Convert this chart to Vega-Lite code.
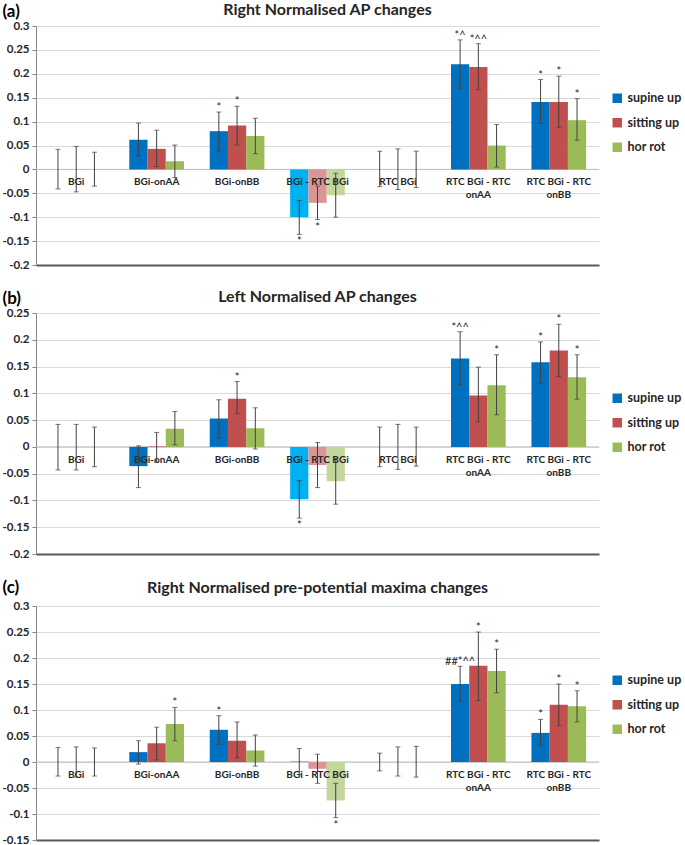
{
  "$schema": "https://vega.github.io/schema/vega-lite/v6.json",
  "padding": {"left": 1, "top": 2, "right": 0, "bottom": 0},
  "background": "white",
  "spacing": 18,
  "resolve": {"scale": {"color": "independent", "x": "independent", "y": "independent"}, "legend": {"color": "independent"}},
  "config": {
    "font": "Lato",
    "view": {"stroke": null},
    "axisY": {"grid": true, "tickCount": 30, "gridColor": "#D9D9D9", "domainColor": "#868686", "tickColor": "#868686", "tickSize": 4, "labelFontWeight": "bold", "labelFontSize": 11.5, "labelColor": "#262626", "labelPadding": 3, "labelOverlap": false, "labelFlush": false, "labelExpr": "'' + datum.value", "titleAngle": 0, "titleFontSize": 17, "titleFontWeight": "bold", "titleColor": "#000000", "titleAlign": "left", "titleBaseline": "alphabetic", "titleX": -34, "titleY": -10},
    "axisX": {"labels": false, "ticks": false, "domainColor": "#595959", "domainWidth": 2, "title": null, "grid": false},
    "title": {"fontSize": 16, "fontWeight": "bold", "color": "#262626", "offset": -16, "frame": "group", "anchor": "middle"},
    "legend": {"orient": "none", "legendX": 575, "legendY": 66, "labelFontSize": 12.5, "labelFontWeight": "bold", "labelOffset": 4, "symbolType": "square", "symbolSize": 90, "rowPadding": 11.5, "labelColor": "#262626", "symbolStrokeWidth": 0}
  },
  "datasets": {
    "a": [
      {"g": "BGi", "s": "supine up", "v": 0, "lo": -0.041, "hi": 0.042, "up": "", "dn": ""},
      {"g": "BGi", "s": "sitting up", "v": 0, "lo": -0.047, "hi": 0.048, "up": "", "dn": ""},
      {"g": "BGi", "s": "hor rot", "v": 0, "lo": -0.035, "hi": 0.036, "up": "", "dn": ""},
      {"g": "BGi-onAA", "s": "supine up", "v": 0.062, "lo": 0.029, "hi": 0.097, "up": "", "dn": ""},
      {"g": "BGi-onAA", "s": "sitting up", "v": 0.043, "lo": 0.006, "hi": 0.082, "up": "", "dn": ""},
      {"g": "BGi-onAA", "s": "hor rot", "v": 0.017, "lo": -0.017, "hi": 0.051, "up": "", "dn": ""},
      {"g": "BGi-onBB", "s": "supine up", "v": 0.080, "lo": 0.039, "hi": 0.120, "up": "*", "dn": ""},
      {"g": "BGi-onBB", "s": "sitting up", "v": 0.092, "lo": 0.051, "hi": 0.132, "up": "*", "dn": ""},
      {"g": "BGi-onBB", "s": "hor rot", "v": 0.070, "lo": 0.033, "hi": 0.107, "up": "", "dn": ""},
      {"g": "BGi - RTC BGi", "s": "supine up", "v": -0.100, "lo": -0.136, "hi": -0.065, "up": "", "dn": "*"},
      {"g": "BGi - RTC BGi", "s": "sitting up", "v": -0.070, "lo": -0.105, "hi": -0.035, "up": "", "dn": "*"},
      {"g": "BGi - RTC BGi", "s": "hor rot", "v": -0.054, "lo": -0.100, "hi": -0.008, "up": "", "dn": ""},
      {"g": "RTC BGi", "s": "supine up", "v": 0, "lo": -0.036, "hi": 0.038, "up": "", "dn": ""},
      {"g": "RTC BGi", "s": "sitting up", "v": 0, "lo": -0.042, "hi": 0.043, "up": "", "dn": ""},
      {"g": "RTC BGi", "s": "hor rot", "v": 0, "lo": -0.038, "hi": 0.038, "up": "", "dn": ""},
      {"g": "RTC BGi - RTC onAA", "s": "supine up", "v": 0.220, "lo": 0.170, "hi": 0.271, "up": "*^", "dn": ""},
      {"g": "RTC BGi - RTC onAA", "s": "sitting up", "v": 0.214, "lo": 0.167, "hi": 0.263, "up": "*^^", "dn": ""},
      {"g": "RTC BGi - RTC onAA", "s": "hor rot", "v": 0.050, "lo": 0.005, "hi": 0.094, "up": "", "dn": ""},
      {"g": "RTC BGi - RTC onBB", "s": "supine up", "v": 0.141, "lo": 0.096, "hi": 0.188, "up": "*", "dn": ""},
      {"g": "RTC BGi - RTC onBB", "s": "sitting up", "v": 0.141, "lo": 0.088, "hi": 0.195, "up": "*", "dn": ""},
      {"g": "RTC BGi - RTC onBB", "s": "hor rot", "v": 0.103, "lo": 0.061, "hi": 0.148, "up": "*", "dn": ""}
    ],
    "b": [
      {"g": "BGi", "s": "supine up", "v": 0, "lo": -0.043, "hi": 0.042, "up": "", "dn": ""},
      {"g": "BGi", "s": "sitting up", "v": 0, "lo": -0.043, "hi": 0.042, "up": "", "dn": ""},
      {"g": "BGi", "s": "hor rot", "v": 0, "lo": -0.037, "hi": 0.037, "up": "", "dn": ""},
      {"g": "BGi-onAA", "s": "supine up", "v": -0.036, "lo": -0.076, "hi": 0.002, "up": "", "dn": ""},
      {"g": "BGi-onAA", "s": "sitting up", "v": 0.001, "lo": -0.029, "hi": 0.027, "up": "", "dn": ""},
      {"g": "BGi-onAA", "s": "hor rot", "v": 0.034, "lo": 0.004, "hi": 0.066, "up": "", "dn": ""},
      {"g": "BGi-onBB", "s": "supine up", "v": 0.053, "lo": 0.016, "hi": 0.088, "up": "", "dn": ""},
      {"g": "BGi-onBB", "s": "sitting up", "v": 0.090, "lo": 0.062, "hi": 0.122, "up": "*", "dn": ""},
      {"g": "BGi-onBB", "s": "hor rot", "v": 0.035, "lo": -0.004, "hi": 0.073, "up": "", "dn": ""},
      {"g": "BGi - RTC BGi", "s": "supine up", "v": -0.098, "lo": -0.133, "hi": -0.063, "up": "", "dn": "*"},
      {"g": "BGi - RTC BGi", "s": "sitting up", "v": -0.034, "lo": -0.076, "hi": 0.008, "up": "", "dn": ""},
      {"g": "BGi - RTC BGi", "s": "hor rot", "v": -0.064, "lo": -0.107, "hi": -0.021, "up": "", "dn": ""},
      {"g": "RTC BGi", "s": "supine up", "v": 0, "lo": -0.037, "hi": 0.037, "up": "", "dn": ""},
      {"g": "RTC BGi", "s": "sitting up", "v": 0, "lo": -0.042, "hi": 0.042, "up": "", "dn": ""},
      {"g": "RTC BGi", "s": "hor rot", "v": 0, "lo": -0.036, "hi": 0.037, "up": "", "dn": ""},
      {"g": "RTC BGi - RTC onAA", "s": "supine up", "v": 0.165, "lo": 0.116, "hi": 0.215, "up": "*^^", "dn": ""},
      {"g": "RTC BGi - RTC onAA", "s": "sitting up", "v": 0.096, "lo": 0.047, "hi": 0.149, "up": "", "dn": ""},
      {"g": "RTC BGi - RTC onAA", "s": "hor rot", "v": 0.115, "lo": 0.060, "hi": 0.172, "up": "*", "dn": ""},
      {"g": "RTC BGi - RTC onBB", "s": "supine up", "v": 0.158, "lo": 0.119, "hi": 0.196, "up": "*", "dn": ""},
      {"g": "RTC BGi - RTC onBB", "s": "sitting up", "v": 0.180, "lo": 0.131, "hi": 0.229, "up": "*", "dn": ""},
      {"g": "RTC BGi - RTC onBB", "s": "hor rot", "v": 0.130, "lo": 0.089, "hi": 0.172, "up": "*", "dn": ""}
    ],
    "c": [
      {"g": "BGi", "s": "supine up", "v": 0, "lo": -0.027, "hi": 0.028, "up": "", "dn": ""},
      {"g": "BGi", "s": "sitting up", "v": 0, "lo": -0.029, "hi": 0.029, "up": "", "dn": ""},
      {"g": "BGi", "s": "hor rot", "v": 0, "lo": -0.027, "hi": 0.027, "up": "", "dn": ""},
      {"g": "BGi-onAA", "s": "supine up", "v": 0.019, "lo": -0.004, "hi": 0.041, "up": "", "dn": ""},
      {"g": "BGi-onAA", "s": "sitting up", "v": 0.036, "lo": 0.004, "hi": 0.067, "up": "", "dn": ""},
      {"g": "BGi-onAA", "s": "hor rot", "v": 0.073, "lo": 0.041, "hi": 0.105, "up": "*", "dn": ""},
      {"g": "BGi-onBB", "s": "supine up", "v": 0.062, "lo": 0.034, "hi": 0.089, "up": "*", "dn": ""},
      {"g": "BGi-onBB", "s": "sitting up", "v": 0.041, "lo": 0.008, "hi": 0.077, "up": "", "dn": ""},
      {"g": "BGi-onBB", "s": "hor rot", "v": 0.022, "lo": -0.008, "hi": 0.052, "up": "", "dn": ""},
      {"g": "BGi - RTC BGi", "s": "supine up", "v": 0.001, "lo": -0.024, "hi": 0.026, "up": "", "dn": ""},
      {"g": "BGi - RTC BGi", "s": "sitting up", "v": -0.013, "lo": -0.041, "hi": 0.015, "up": "", "dn": ""},
      {"g": "BGi - RTC BGi", "s": "hor rot", "v": -0.074, "lo": -0.107, "hi": -0.041, "up": "", "dn": "*"},
      {"g": "RTC BGi", "s": "supine up", "v": 0, "lo": -0.017, "hi": 0.017, "up": "", "dn": ""},
      {"g": "RTC BGi", "s": "sitting up", "v": 0, "lo": -0.027, "hi": 0.029, "up": "", "dn": ""},
      {"g": "RTC BGi", "s": "hor rot", "v": 0, "lo": -0.029, "hi": 0.030, "up": "", "dn": ""},
      {"g": "RTC BGi - RTC onAA", "s": "supine up", "v": 0.150, "lo": 0.117, "hi": 0.184, "up": "##*^^", "dn": ""},
      {"g": "RTC BGi - RTC onAA", "s": "sitting up", "v": 0.185, "lo": 0.118, "hi": 0.250, "up": "*", "dn": ""},
      {"g": "RTC BGi - RTC onAA", "s": "hor rot", "v": 0.175, "lo": 0.133, "hi": 0.217, "up": "*", "dn": ""},
      {"g": "RTC BGi - RTC onBB", "s": "supine up", "v": 0.056, "lo": 0.031, "hi": 0.082, "up": "*", "dn": ""},
      {"g": "RTC BGi - RTC onBB", "s": "sitting up", "v": 0.110, "lo": 0.070, "hi": 0.150, "up": "*", "dn": ""},
      {"g": "RTC BGi - RTC onBB", "s": "hor rot", "v": 0.107, "lo": 0.077, "hi": 0.137, "up": "*", "dn": ""}
    ],
    "labelsAB": [
      {"g": "BGi", "label": "BGi"},
      {"g": "BGi-onAA", "label": "BGi-onAA"},
      {"g": "BGi-onBB", "label": "BGi-onBB"},
      {"g": "BGi - RTC BGi", "label": "BGi - RTC BGi"},
      {"g": "RTC BGi", "label": "RTC BGi"},
      {"g": "RTC BGi - RTC onAA", "label": "RTC BGi - RTC\nonAA"},
      {"g": "RTC BGi - RTC onBB", "label": "RTC BGi - RTC\nonBB"}
    ],
    "labelsC": [
      {"g": "BGi", "label": "BGi"},
      {"g": "BGi-onAA", "label": "BGi-onAA"},
      {"g": "BGi-onBB", "label": "BGi-onBB"},
      {"g": "BGi - RTC BGi", "label": "BGi - RTC BGi"},
      {"g": "RTC BGi - RTC onAA", "label": "RTC BGi - RTC\nonAA"},
      {"g": "RTC BGi - RTC onBB", "label": "RTC BGi - RTC\nonBB"}
    ],
    "zero": [{"z": 0}]
  },
  "vconcat": [
    {
      "width": 563, "height": 239,
      "title": {"text": "Right Normalised AP changes", "dx": 10},
      "layer": [
        {
          "data": {"name": "zero"},
          "mark": {"type": "rule", "color": "#BFBFBF", "strokeWidth": 1},
          "encoding": {"y": {"field": "z", "type": "quantitative", "scale": {"domain": [-0.2, 0.3], "nice": false, "zero": false}, "axis": {"values": [-0.2, -0.15, -0.1, -0.05, 0, 0.05, 0.1, 0.15, 0.2, 0.25, 0.3], "title": "(a)"}}}
        },
        {
          "data": {"name": "a"},
          "mark": {"type": "bar"},
          "encoding": {
            "x": {"field": "g", "type": "nominal", "sort": ["BGi", "BGi-onAA", "BGi-onBB", "BGi - RTC BGi", "RTC BGi", "RTC BGi - RTC onAA", "RTC BGi - RTC onBB"], "scale": {"paddingInner": 0.32, "paddingOuter": 0.16}},
            "xOffset": {"field": "s", "type": "nominal", "sort": ["supine up", "sitting up", "hor rot"]},
            "y": {"field": "v", "type": "quantitative", "axis": {"values": [-0.2, -0.15, -0.1, -0.05, 0, 0.05, 0.1, 0.15, 0.2, 0.25, 0.3], "title": "(a)"}},
            "y2": {"datum": 0},
            "color": {"field": "s", "type": "nominal", "scale": {"domain": ["supine up", "sitting up", "hor rot"], "range": ["#0070C0", "#C0504D", "#9BBB59"]}, "legend": {"title": null, "legendY": 66},
              "condition": [
                {"test": "datum.g === 'BGi - RTC BGi' && datum.s === 'supine up'", "value": "#00B0F0"},
                {"test": "datum.g === 'BGi - RTC BGi' && datum.s === 'sitting up'", "value": "#DA9694"},
                {"test": "datum.g === 'BGi - RTC BGi' && datum.s === 'hor rot'", "value": "#C3D69B"}
              ]}
          }
        },
        {
          "data": {"name": "labelsAB"},
          "mark": {"type": "text", "baseline": "top", "dy": 8, "fontSize": 10, "fontWeight": "bold", "color": "#262626", "lineBreak": "\n", "lineHeight": 13},
          "encoding": {
            "x": {"field": "g", "type": "nominal", "sort": ["BGi", "BGi-onAA", "BGi-onBB", "BGi - RTC BGi", "RTC BGi", "RTC BGi - RTC onAA", "RTC BGi - RTC onBB"]},
            "y": {"datum": 0},
            "text": {"field": "label"}
          }
        },
        {
          "data": {"name": "a"},
          "mark": {"type": "rule", "color": "#404040", "strokeWidth": 1},
          "encoding": {
            "x": {"field": "g", "type": "nominal", "sort": ["BGi", "BGi-onAA", "BGi-onBB", "BGi - RTC BGi", "RTC BGi", "RTC BGi - RTC onAA", "RTC BGi - RTC onBB"]},
            "xOffset": {"field": "s", "type": "nominal", "sort": ["supine up", "sitting up", "hor rot"]},
            "y": {"field": "lo", "type": "quantitative"},
            "y2": {"field": "hi"}
          }
        },
        {
          "data": {"name": "a"},
          "mark": {"type": "tick", "color": "#404040", "thickness": 1, "size": 5},
          "encoding": {
            "x": {"field": "g", "type": "nominal", "sort": ["BGi", "BGi-onAA", "BGi-onBB", "BGi - RTC BGi", "RTC BGi", "RTC BGi - RTC onAA", "RTC BGi - RTC onBB"]},
            "xOffset": {"field": "s", "type": "nominal", "sort": ["supine up", "sitting up", "hor rot"]},
            "y": {"field": "lo", "type": "quantitative"}
          }
        },
        {
          "data": {"name": "a"},
          "mark": {"type": "tick", "color": "#404040", "thickness": 1, "size": 5},
          "encoding": {
            "x": {"field": "g", "type": "nominal", "sort": ["BGi", "BGi-onAA", "BGi-onBB", "BGi - RTC BGi", "RTC BGi", "RTC BGi - RTC onAA", "RTC BGi - RTC onBB"]},
            "xOffset": {"field": "s", "type": "nominal", "sort": ["supine up", "sitting up", "hor rot"]},
            "y": {"field": "hi", "type": "quantitative"}
          }
        },
        {
          "data": {"name": "a"},
          "mark": {"type": "text", "baseline": "alphabetic", "dy": -1, "fontSize": 11, "color": "#262626"},
          "encoding": {
            "x": {"field": "g", "type": "nominal", "sort": ["BGi", "BGi-onAA", "BGi-onBB", "BGi - RTC BGi", "RTC BGi", "RTC BGi - RTC onAA", "RTC BGi - RTC onBB"]},
            "xOffset": {"field": "s", "type": "nominal", "sort": ["supine up", "sitting up", "hor rot"]},
            "y": {"field": "hi", "type": "quantitative"},
            "text": {"field": "up"}
          }
        },
        {
          "data": {"name": "a"},
          "mark": {"type": "text", "baseline": "alphabetic", "dy": 11, "fontSize": 11, "color": "#262626"},
          "encoding": {
            "x": {"field": "g", "type": "nominal", "sort": ["BGi", "BGi-onAA", "BGi-onBB", "BGi - RTC BGi", "RTC BGi", "RTC BGi - RTC onAA", "RTC BGi - RTC onBB"]},
            "xOffset": {"field": "s", "type": "nominal", "sort": ["supine up", "sitting up", "hor rot"]},
            "y": {"field": "lo", "type": "quantitative"},
            "text": {"field": "dn"}
          }
        }
      ]
    },
    {
      "width": 563, "height": 241,
      "title": "Left Normalised AP changes",
      "layer": [
        {
          "data": {"name": "zero"},
          "mark": {"type": "rule", "color": "#BFBFBF", "strokeWidth": 1},
          "encoding": {"y": {"field": "z", "type": "quantitative", "scale": {"domain": [-0.2, 0.25], "nice": false, "zero": false}, "axis": {"values": [-0.2, -0.15, -0.1, -0.05, 0, 0.05, 0.1, 0.15, 0.2, 0.25], "title": "(b)"}}}
        },
        {
          "data": {"name": "b"},
          "mark": {"type": "bar"},
          "encoding": {
            "x": {"field": "g", "type": "nominal", "sort": ["BGi", "BGi-onAA", "BGi-onBB", "BGi - RTC BGi", "RTC BGi", "RTC BGi - RTC onAA", "RTC BGi - RTC onBB"], "scale": {"paddingInner": 0.32, "paddingOuter": 0.16}},
            "xOffset": {"field": "s", "type": "nominal", "sort": ["supine up", "sitting up", "hor rot"]},
            "y": {"field": "v", "type": "quantitative", "axis": {"values": [-0.2, -0.15, -0.1, -0.05, 0, 0.05, 0.1, 0.15, 0.2, 0.25], "title": "(b)"}},
            "y2": {"datum": 0},
            "color": {"field": "s", "type": "nominal", "scale": {"domain": ["supine up", "sitting up", "hor rot"], "range": ["#0070C0", "#C0504D", "#9BBB59"]}, "legend": {"title": null, "legendY": 79},
              "condition": [
                {"test": "datum.g === 'BGi - RTC BGi' && datum.s === 'supine up'", "value": "#00B0F0"},
                {"test": "datum.g === 'BGi - RTC BGi' && datum.s === 'sitting up'", "value": "#DA9694"},
                {"test": "datum.g === 'BGi - RTC BGi' && datum.s === 'hor rot'", "value": "#C3D69B"}
              ]}
          }
        },
        {
          "data": {"name": "labelsAB"},
          "mark": {"type": "text", "baseline": "top", "dy": 8, "fontSize": 10, "fontWeight": "bold", "color": "#262626", "lineBreak": "\n", "lineHeight": 13},
          "encoding": {
            "x": {"field": "g", "type": "nominal", "sort": ["BGi", "BGi-onAA", "BGi-onBB", "BGi - RTC BGi", "RTC BGi", "RTC BGi - RTC onAA", "RTC BGi - RTC onBB"]},
            "y": {"datum": 0},
            "text": {"field": "label"}
          }
        },
        {
          "data": {"name": "b"},
          "mark": {"type": "rule", "color": "#404040", "strokeWidth": 1},
          "encoding": {
            "x": {"field": "g", "type": "nominal", "sort": ["BGi", "BGi-onAA", "BGi-onBB", "BGi - RTC BGi", "RTC BGi", "RTC BGi - RTC onAA", "RTC BGi - RTC onBB"]},
            "xOffset": {"field": "s", "type": "nominal", "sort": ["supine up", "sitting up", "hor rot"]},
            "y": {"field": "lo", "type": "quantitative"},
            "y2": {"field": "hi"}
          }
        },
        {
          "data": {"name": "b"},
          "mark": {"type": "tick", "color": "#404040", "thickness": 1, "size": 5},
          "encoding": {
            "x": {"field": "g", "type": "nominal", "sort": ["BGi", "BGi-onAA", "BGi-onBB", "BGi - RTC BGi", "RTC BGi", "RTC BGi - RTC onAA", "RTC BGi - RTC onBB"]},
            "xOffset": {"field": "s", "type": "nominal", "sort": ["supine up", "sitting up", "hor rot"]},
            "y": {"field": "lo", "type": "quantitative"}
          }
        },
        {
          "data": {"name": "b"},
          "mark": {"type": "tick", "color": "#404040", "thickness": 1, "size": 5},
          "encoding": {
            "x": {"field": "g", "type": "nominal", "sort": ["BGi", "BGi-onAA", "BGi-onBB", "BGi - RTC BGi", "RTC BGi", "RTC BGi - RTC onAA", "RTC BGi - RTC onBB"]},
            "xOffset": {"field": "s", "type": "nominal", "sort": ["supine up", "sitting up", "hor rot"]},
            "y": {"field": "hi", "type": "quantitative"}
          }
        },
        {
          "data": {"name": "b"},
          "mark": {"type": "text", "baseline": "alphabetic", "dy": -1, "fontSize": 11, "color": "#262626"},
          "encoding": {
            "x": {"field": "g", "type": "nominal", "sort": ["BGi", "BGi-onAA", "BGi-onBB", "BGi - RTC BGi", "RTC BGi", "RTC BGi - RTC onAA", "RTC BGi - RTC onBB"]},
            "xOffset": {"field": "s", "type": "nominal", "sort": ["supine up", "sitting up", "hor rot"]},
            "y": {"field": "hi", "type": "quantitative"},
            "text": {"field": "up"}
          }
        },
        {
          "data": {"name": "b"},
          "mark": {"type": "text", "baseline": "alphabetic", "dy": 11, "fontSize": 11, "color": "#262626"},
          "encoding": {
            "x": {"field": "g", "type": "nominal", "sort": ["BGi", "BGi-onAA", "BGi-onBB", "BGi - RTC BGi", "RTC BGi", "RTC BGi - RTC onAA", "RTC BGi - RTC onBB"]},
            "xOffset": {"field": "s", "type": "nominal", "sort": ["supine up", "sitting up", "hor rot"]},
            "y": {"field": "lo", "type": "quantitative"},
            "text": {"field": "dn"}
          }
        }
      ]
    },
    {
      "width": 563, "height": 234,
      "title": {"text": "Right Normalised pre-potential maxima changes", "offset": -18},
      "layer": [
        {
          "data": {"name": "zero"},
          "mark": {"type": "rule", "color": "#BFBFBF", "strokeWidth": 1},
          "encoding": {"y": {"field": "z", "type": "quantitative", "scale": {"domain": [-0.15, 0.3], "nice": false, "zero": false}, "axis": {"values": [-0.15, -0.1, -0.05, 0, 0.05, 0.1, 0.15, 0.2, 0.25, 0.3], "title": "(c)", "titleY": -14}}}
        },
        {
          "data": {"name": "c"},
          "mark": {"type": "bar"},
          "encoding": {
            "x": {"field": "g", "type": "nominal", "sort": ["BGi", "BGi-onAA", "BGi-onBB", "BGi - RTC BGi", "RTC BGi", "RTC BGi - RTC onAA", "RTC BGi - RTC onBB"], "scale": {"paddingInner": 0.32, "paddingOuter": 0.16}},
            "xOffset": {"field": "s", "type": "nominal", "sort": ["supine up", "sitting up", "hor rot"]},
            "y": {"field": "v", "type": "quantitative", "axis": {"values": [-0.15, -0.1, -0.05, 0, 0.05, 0.1, 0.15, 0.2, 0.25, 0.3], "title": "(c)", "titleY": -14}},
            "y2": {"datum": 0},
            "color": {"field": "s", "type": "nominal", "scale": {"domain": ["supine up", "sitting up", "hor rot"], "range": ["#0070C0", "#C0504D", "#9BBB59"]}, "legend": {"title": null, "legendY": 68},
              "condition": [
                {"test": "datum.g === 'BGi - RTC BGi' && datum.s === 'supine up'", "value": "#00B0F0"},
                {"test": "datum.g === 'BGi - RTC BGi' && datum.s === 'sitting up'", "value": "#DA9694"},
                {"test": "datum.g === 'BGi - RTC BGi' && datum.s === 'hor rot'", "value": "#C3D69B"}
              ]}
          }
        },
        {
          "data": {"name": "labelsC"},
          "mark": {"type": "text", "baseline": "top", "dy": 8, "fontSize": 10, "fontWeight": "bold", "color": "#262626", "lineBreak": "\n", "lineHeight": 13},
          "encoding": {
            "x": {"field": "g", "type": "nominal", "sort": ["BGi", "BGi-onAA", "BGi-onBB", "BGi - RTC BGi", "RTC BGi", "RTC BGi - RTC onAA", "RTC BGi - RTC onBB"]},
            "y": {"datum": 0},
            "text": {"field": "label"}
          }
        },
        {
          "data": {"name": "c"},
          "mark": {"type": "rule", "color": "#404040", "strokeWidth": 1},
          "encoding": {
            "x": {"field": "g", "type": "nominal", "sort": ["BGi", "BGi-onAA", "BGi-onBB", "BGi - RTC BGi", "RTC BGi", "RTC BGi - RTC onAA", "RTC BGi - RTC onBB"]},
            "xOffset": {"field": "s", "type": "nominal", "sort": ["supine up", "sitting up", "hor rot"]},
            "y": {"field": "lo", "type": "quantitative"},
            "y2": {"field": "hi"}
          }
        },
        {
          "data": {"name": "c"},
          "mark": {"type": "tick", "color": "#404040", "thickness": 1, "size": 5},
          "encoding": {
            "x": {"field": "g", "type": "nominal", "sort": ["BGi", "BGi-onAA", "BGi-onBB", "BGi - RTC BGi", "RTC BGi", "RTC BGi - RTC onAA", "RTC BGi - RTC onBB"]},
            "xOffset": {"field": "s", "type": "nominal", "sort": ["supine up", "sitting up", "hor rot"]},
            "y": {"field": "lo", "type": "quantitative"}
          }
        },
        {
          "data": {"name": "c"},
          "mark": {"type": "tick", "color": "#404040", "thickness": 1, "size": 5},
          "encoding": {
            "x": {"field": "g", "type": "nominal", "sort": ["BGi", "BGi-onAA", "BGi-onBB", "BGi - RTC BGi", "RTC BGi", "RTC BGi - RTC onAA", "RTC BGi - RTC onBB"]},
            "xOffset": {"field": "s", "type": "nominal", "sort": ["supine up", "sitting up", "hor rot"]},
            "y": {"field": "hi", "type": "quantitative"}
          }
        },
        {
          "data": {"name": "c"},
          "mark": {"type": "text", "baseline": "alphabetic", "dy": -1, "fontSize": 11, "color": "#262626"},
          "encoding": {
            "x": {"field": "g", "type": "nominal", "sort": ["BGi", "BGi-onAA", "BGi-onBB", "BGi - RTC BGi", "RTC BGi", "RTC BGi - RTC onAA", "RTC BGi - RTC onBB"]},
            "xOffset": {"field": "s", "type": "nominal", "sort": ["supine up", "sitting up", "hor rot"]},
            "y": {"field": "hi", "type": "quantitative"},
            "text": {"field": "up"}
          }
        },
        {
          "data": {"name": "c"},
          "mark": {"type": "text", "baseline": "alphabetic", "dy": 11, "fontSize": 11, "color": "#262626"},
          "encoding": {
            "x": {"field": "g", "type": "nominal", "sort": ["BGi", "BGi-onAA", "BGi-onBB", "BGi - RTC BGi", "RTC BGi", "RTC BGi - RTC onAA", "RTC BGi - RTC onBB"]},
            "xOffset": {"field": "s", "type": "nominal", "sort": ["supine up", "sitting up", "hor rot"]},
            "y": {"field": "lo", "type": "quantitative"},
            "text": {"field": "dn"}
          }
        }
      ]
    }
  ]
}
